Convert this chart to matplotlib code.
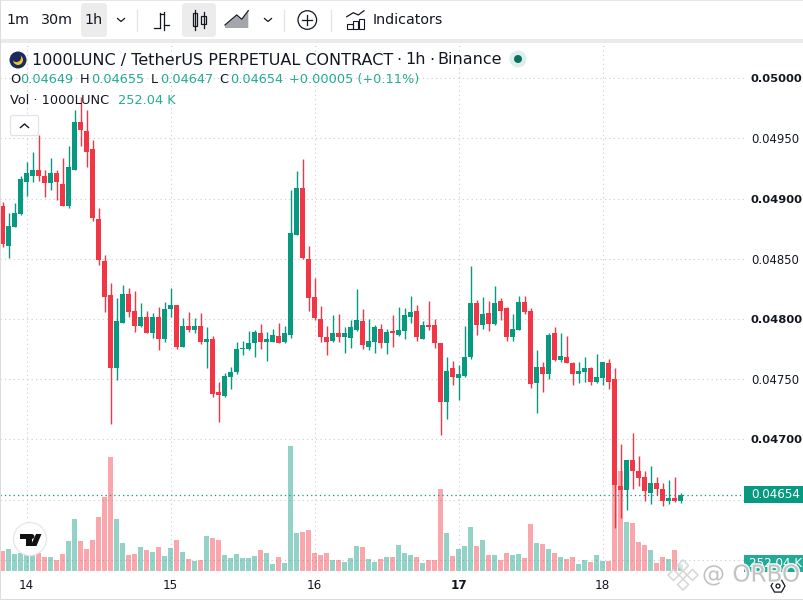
import numpy as np
import matplotlib
matplotlib.use("Agg")
import matplotlib.pyplot as plt
from matplotlib.patches import Circle, FancyBboxPatch, Polygon, Rectangle, RegularPolygon
import matplotlib.patheffects as pe

# hourly candles, prices in units of 0.00001
opens = [4894, 4861, 4876, 4887, 4914, 4919, 4924, 4919, 4913, 4921, 4912, 4894, 4924, 4964, 4956, 4941, 4883, 4848, 4820, 4759,
         4797, 4821, 4807, 4794, 4802, 4788, 4802, 4783, 4808, 4812, 4777, 4794, 4791, 4794, 4781, 4783, 4739, 4736, 4752, 4756,
         4775, 4775, 4780, 4788, 4781, 4781, 4786, 4781, 4787, 4870, 4909, 4850, 4818, 4800, 4785, 4782, 4788, 4785, 4784, 4791,
         4798, 4777, 4781, 4792, 4780, 4790, 4787, 4790, 4802, 4807, 4783, 4795, 4795, 4780, 4731, 4759, 4751, 4753, 4768, 4813,
         4795, 4805, 4796, 4815, 4809, 4785, 4791, 4814, 4807, 4747, 4760, 4754, 4788, 4766, 4768, 4763, 4754, 4756, 4759, 4748,
         4751, 4763, 4750, 4661, 4658, 4683, 4674, 4669, 4655, 4664, 4659, 4649, 4651, 4649]
highs = [4897, 4888, 4896, 4919, 4930, 4939, 4953, 4924, 4934, 4924, 4934, 4944, 4974, 4984, 4974, 4949, 4892, 4853, 4830, 4817,
         4828, 4826, 4823, 4813, 4807, 4805, 4810, 4814, 4826, 4812, 4801, 4806, 4801, 4805, 4793, 4786, 4748, 4755, 4760, 4781,
         4782, 4790, 4791, 4796, 4789, 4792, 4797, 4794, 4907, 4923, 4933, 4861, 4834, 4811, 4794, 4803, 4804, 4793, 4799, 4825,
         4808, 4800, 4795, 4796, 4792, 4803, 4810, 4809, 4819, 4812, 4798, 4815, 4800, 4780, 4768, 4765, 4762, 4794, 4844, 4816,
         4818, 4815, 4827, 4817, 4810, 4804, 4819, 4819, 4809, 4774, 4764, 4788, 4793, 4788, 4786, 4764, 4764, 4768, 4760, 4771,
         4764, 4767, 4759, 4696, 4683, 4705, 4686, 4674, 4678, 4669, 4664, 4666, 4669, 4655]
lows = [4860, 4851, 4876, 4886, 4902, 4914, 4915, 4901, 4907, 4899, 4894, 4892, 4924, 4944, 4926, 4881, 4845, 4806, 4713, 4749,
        4797, 4802, 4789, 4793, 4788, 4784, 4774, 4781, 4802, 4775, 4777, 4789, 4788, 4779, 4759, 4735, 4714, 4735, 4742, 4754,
        4770, 4774, 4768, 4775, 4765, 4781, 4780, 4780, 4784, 4870, 4850, 4807, 4799, 4781, 4770, 4781, 4781, 4772, 4776, 4790,
        4775, 4774, 4772, 4776, 4771, 4777, 4786, 4783, 4797, 4782, 4783, 4791, 4776, 4704, 4717, 4745, 4733, 4752, 4767, 4787,
        4792, 4790, 4795, 4799, 4782, 4782, 4791, 4804, 4743, 4722, 4739, 4750, 4765, 4764, 4763, 4745, 4747, 4748, 4745, 4747,
        4745, 4742, 4626, 4635, 4641, 4659, 4661, 4649, 4646, 4654, 4645, 4646, 4648, 4647]
closes = [4862, 4877, 4888, 4916, 4921, 4924, 4919, 4913, 4921, 4914, 4894, 4926, 4964, 4957, 4939, 4884, 4849, 4818, 4759, 4798,
          4821, 4806, 4794, 4802, 4788, 4802, 4783, 4808, 4812, 4777, 4794, 4791, 4794, 4781, 4783, 4738, 4737, 4753, 4756, 4775,
          4776, 4780, 4789, 4781, 4783, 4787, 4780, 4788, 4871, 4909, 4851, 4817, 4801, 4785, 4781, 4788, 4785, 4788, 4793, 4799,
          4778, 4782, 4793, 4780, 4789, 4788, 4791, 4803, 4806, 4785, 4795, 4793, 4780, 4731, 4757, 4752, 4754, 4768, 4813, 4795,
          4804, 4796, 4813, 4807, 4785, 4792, 4814, 4806, 4746, 4760, 4754, 4787, 4766, 4769, 4763, 4754, 4757, 4759, 4748, 4752,
          4764, 4748, 4662, 4658, 4683, 4674, 4668, 4657, 4664, 4659, 4649, 4651, 4649, 4654]
# volume in thousands
volumes = [720, 792, 612, 648, 576, 576, 648, 504, 504, 396, 612, 1080, 1872, 1080, 792, 1116, 1944, 2664, 4104, 1872,
           1008, 576, 612, 864, 756, 684, 864, 540, 828, 1116, 684, 432, 360, 396, 1260, 1188, 1116, 576, 468, 612,
           468, 468, 540, 756, 648, 252, 504, 288, 4500, 1368, 1404, 1476, 648, 576, 648, 396, 396, 324, 468, 900,
           864, 432, 324, 432, 504, 504, 936, 648, 576, 504, 288, 396, 396, 2952, 1368, 540, 792, 900, 1584, 900,
           1116, 576, 576, 396, 648, 576, 612, 468, 1692, 1008, 972, 792, 648, 504, 432, 504, 252, 396, 324, 576,
           360, 360, 3240, 3600, 1764, 1728, 1044, 936, 756, 288, 504, 432, 756, 252.04]

day_ticks = [4, 28, 52, 76, 100]
day_labels = ["14", "15", "16", "17", "18"]
price_ticks = [0.0500, 0.0495, 0.0490, 0.0485, 0.0480, 0.0475, 0.0470, 0.0465, 0.0460]
price_labels = ["0.05000", "0.04950", "0.04900", "0.04850", "0.04800", "0.04750", "0.04700", "", ""]
last_price = 0.04654

GREEN = "#089981"
RED = "#f23645"
GRID = "#c8cbd0"
TEXT = "#131722"

opens = np.array(opens) / 1e5
highs = np.array(highs) / 1e5
lows = np.array(lows) / 1e5
closes = np.array(closes) / 1e5
volumes = np.array(volumes)
x = np.arange(len(opens))
up = closes >= opens
colors = np.where(up, GREEN, RED)

plt.rcParams["font.family"] = "DejaVu Sans"
fig = plt.figure(figsize=(8.04, 6.0), dpi=100)

# main pane, 0..744 px across, 42..571 px down
ax = fig.add_axes([0, 29 / 600, 744 / 804, 529 / 600])
ax.set_xlim(-0.445, 123.55)
ax.set_ylim(0.045906, 0.050301)
ax.set_xticks(day_ticks)
ax.set_xticklabels(day_labels, fontsize=8.65, color=TEXT)
ax.get_xticklabels()[3].set_fontweight("bold")
ax.tick_params(axis="x", length=0, pad=6)
ax.grid(True, color=GRID, linestyle=(0, (1, 3)), linewidth=0.8)
ax.set_axisbelow(True)
for s in ax.spines.values():
    s.set_visible(False)

# volume on its own scale, sharing the bottom of the pane
vax = ax.twinx()
vax.set_ylim(0, 529 * 36)
vax.axis("off")
vax.bar(x, volumes, width=0.84, color=colors, alpha=0.44, linewidth=0)

# candles above the volume bars
cax = ax.twinx()
cax.set_ylim(ax.get_ylim())
cax.axis("off")
cax.axhline(last_price, color=GREEN, linestyle=(0, (1, 2.5)), linewidth=0.9)
cax.vlines(x, lows, highs, colors=colors, linewidth=1.0)
body_low = np.minimum(opens, closes)
body_h = np.maximum(np.abs(closes - opens), 0.00001)
cax.bar(x, body_h, bottom=body_low, width=0.86, color=colors, linewidth=0)

# twinx moves the ticks of ax to the left, so set the price scale after it
ax.yaxis.tick_right()
ax.tick_params(axis="y", length=0, pad=5)
ax.set_yticks(price_ticks)
ax.set_yticklabels(price_labels, fontsize=8.4, color=TEXT)
for tick, val in zip(ax.yaxis.get_major_ticks(), price_ticks):
    if round(val * 1e5) % 100 == 0:
        tick.label2.set_fontweight("bold")
        tick.label2.set_fontsize(8.25)

# overlay in screen pixels for the TradingView chrome
ui = fig.add_axes([0, 0, 1, 1], zorder=10)
ui.set_xlim(0, 804)
ui.set_ylim(600, 0)
ui.axis("off")
ui.patch.set_alpha(0)

# toolbar
ui.add_patch(Rectangle((0, 39), 804, 4, color="#e9eaec", lw=0))
ui.add_patch(Rectangle((0, 0), 804, 1, color="#e4e5e7", lw=0))
ui.add_patch(Rectangle((0, 0), 1, 600, color="#dcdcdc", lw=0))
ui.add_patch(Rectangle((0, 598.5), 804, 1.5, color="#dcdcdc", lw=0))
ui.add_patch(FancyBboxPatch((84, 6), 20, 28, boxstyle="round,pad=3,rounding_size=4", color="#ececec", lw=0))
ui.add_patch(FancyBboxPatch((185, 6), 28, 28, boxstyle="round,pad=3,rounding_size=4", color="#ececec", lw=0))
for tx, t in [(18, "1m"), (57, "30m"), (93.5, "1h")]:
    ui.text(tx, 20.5, t, fontsize=10.3, color=TEXT, ha="center", va="center")
ui.text(373, 20.5, "Indicators", fontsize=10.3, color=TEXT, ha="left", va="center")
for sx in [137.5, 284.5, 331.5]:
    ui.plot([sx, sx], [10, 31], color="#e0e3eb", lw=0.9)
for cx in [121, 268]:
    ui.plot([cx - 3.5, cx, cx + 3.5], [18.5, 21.5, 18.5], color=TEXT, lw=0.9)
# bar style icon
ui.plot([160.5, 160.5], [13, 28], color=TEXT, lw=0.9)
ui.plot([154, 160.5], [27.5, 27.5], color=TEXT, lw=0.9)
ui.plot([160.5, 164], [13.5, 13.5], color=TEXT, lw=0.9)
ui.plot([164.5, 164.5], [12, 30], color=TEXT, lw=0.9)
ui.plot([164.5, 169], [24.5, 24.5], color=TEXT, lw=0.9)
# candle style icon
ui.plot([195, 195], [10, 30], color=TEXT, lw=0.9)
ui.add_patch(Rectangle((192.7, 13), 4.6, 13, fc="#ececec", ec=TEXT, lw=0.9))
ui.plot([203.7, 203.7], [12, 28], color=TEXT, lw=0.9)
ui.add_patch(Rectangle((201.4, 15.7), 4.6, 8.3, fc="#ececec", ec=TEXT, lw=0.9))
# area style icon
ui.add_patch(Polygon([(225, 26), (236.7, 16), (241.7, 20.3), (248.3, 11.7), (248.3, 28), (225, 28)], fc="#a4a6ab", ec="none"))
ui.plot([225, 236.7, 241.7, 248.3], [25, 15, 19.3, 10.7], color=TEXT, lw=0.9)
# plus button
ui.add_patch(Circle((307.3, 20), 9.3, fc="none", ec=TEXT, lw=0.9))
ui.plot([302.3, 312.3], [20, 20], color=TEXT, lw=0.9)
ui.plot([307.3, 307.3], [15, 25], color=TEXT, lw=0.9)
# indicators icon
for bx, by in [(347.5, 24), (353, 21), (358.7, 18.5)]:
    ui.add_patch(Rectangle((bx, by), 5.5, 28.5 - by, fc="none", ec=TEXT, lw=0.8))
ui.plot([346.7, 353.3, 358.3, 364], [16.7, 12.7, 15, 10.7], color=TEXT, lw=0.9)

# legend block
ui.add_patch(Circle((18, 60), 8.5, color="#1a2a5e", lw=0))
ui.add_patch(Circle((18, 60), 5, color="#f2c230", lw=0))
ui.add_patch(Circle((16.5, 57.5), 4.6, color="#1a2a5e", lw=0))
for tx, t in [(32.5, "1000LUNC / TetherUS PERPETUAL CONTRACT"), (396.5, "·"), (405.5, "1h"), (429, "·"), (437, "Binance")]:
    ui.text(tx, 60, t, fontsize=11.5, color=TEXT, ha="left", va="center")
ui.add_patch(Circle((518, 59), 8.5, color="#dcefec", lw=0))
ui.add_patch(Circle((518, 59), 4, color="#0b6e5f", lw=0))
val_col = "#22ab94"
for lx, lt, vx, vt in [(10, "O", 20, "0.04649"), (80, "H", 91, "0.04655"), (151, "L", 160, "0.04647"), (219, "C", 230, "0.04654")]:
    ui.text(lx, 79.5, lt, fontsize=9.3, color=TEXT, ha="left", va="center")
    ui.text(vx, 79.5, vt, fontsize=9.3, color=val_col, ha="left", va="center")
ui.text(289, 79.5, "+0.00005 (+0.11%)", fontsize=9.3, color=val_col, ha="left", va="center")
ui.text(10, 100, "Vol · 1000LUNC", fontsize=9.3, color=TEXT, ha="left", va="center")
ui.text(118, 100, "252.04 K", fontsize=9.3, color=val_col, ha="left", va="center")
ui.add_patch(FancyBboxPatch((12, 117), 25, 17, boxstyle="round,pad=1.5,rounding_size=2", fc="white", ec="#e0e3eb", lw=0.9))
ui.plot([20.5, 24.5, 28.5], [127.5, 124, 127.5], color=TEXT, lw=1)

# price labels
ui.add_patch(Rectangle((744, 486), 60, 17, color=GREEN, lw=0))
ui.text(776, 494.5, "0.04654", fontsize=8.65, color="white", ha="center", va="center")
ui.add_patch(Rectangle((744, 555), 60, 16.5, color="#22ab94", lw=0))
ui.text(776, 563.5, "252.04 K", fontsize=8.65, color="white", ha="center", va="center")

# tradingview badge
ui.add_patch(Circle((30, 539), 16.5, fc="white", ec="#e4e6ea", lw=0.9))
ui.add_patch(Polygon([(20, 534), (32, 534), (32, 546), (26.5, 546), (26.5, 539), (20, 539)], color="#111111", lw=0))
ui.add_patch(Circle((32, 536.5), 2.4, color="#111111", lw=0))
ui.add_patch(Polygon([(36, 534), (41.5, 534), (36.5, 546), (30.5, 546)], color="#111111", lw=0))

# gear and watermark
ui.add_patch(RegularPolygon((778, 586), 6, radius=7, orientation=np.pi / 6, fc="none", ec=TEXT, lw=0.9))
ui.add_patch(Circle((778, 586), 2, fc="none", ec=TEXT, lw=0.9))
halo = [pe.withStroke(linewidth=2.2, foreground=(1, 1, 1, 0.8))]
ui.text(702, 575, "@ ORBO", fontsize=16.6, color="#bdbdbd", alpha=0.9, ha="left", va="center", path_effects=halo)
for dx, dy, r in [(683, 565.5, 5.5), (673.5, 575, 5.5), (692.5, 575, 5.5), (683, 584.5, 5.5), (683, 575, 4)]:
    ui.add_patch(Polygon([(dx, dy - r), (dx + r, dy), (dx, dy + r), (dx - r, dy)], fc=(1, 1, 1, 0.6), ec="#d6d6d6", lw=1.1))

fig.savefig("out.png", dpi=100, facecolor="white")
